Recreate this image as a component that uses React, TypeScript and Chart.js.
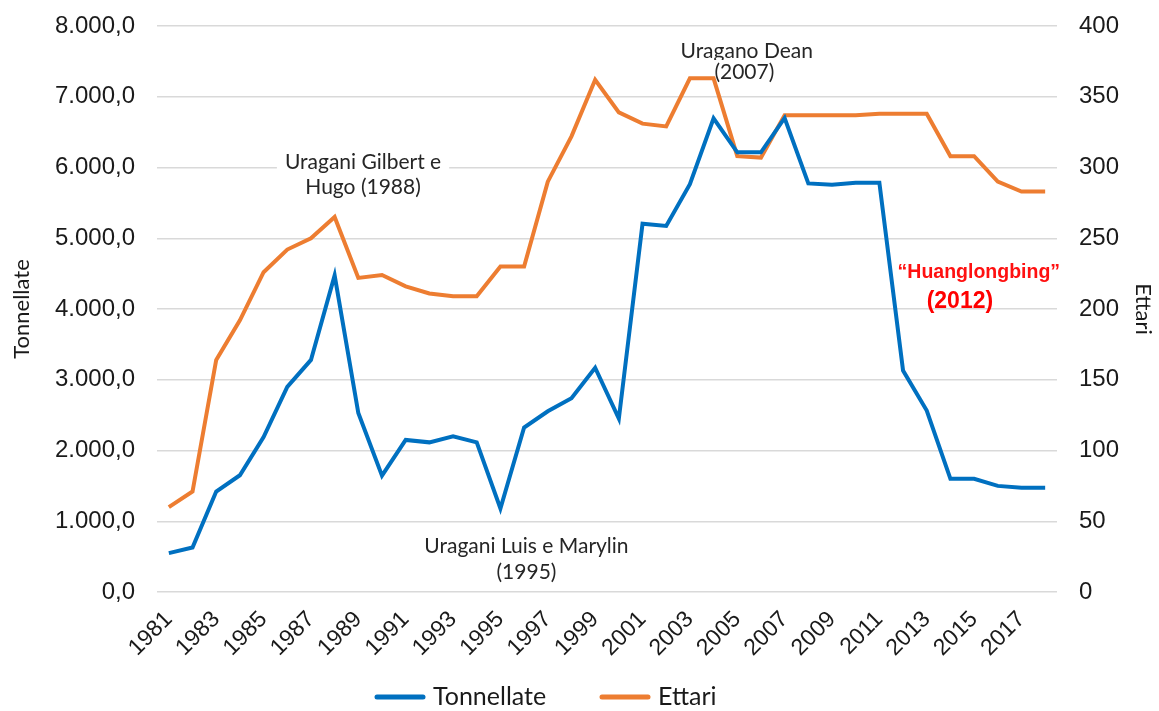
import React, { useEffect, useRef } from "react";
import { Chart, registerables } from "chart.js";

Chart.register(...registerables);

const years: string[] = [
  "1981","1982","1983","1984","1985","1986","1987","1988","1989","1990",
  "1991","1992","1993","1994","1995","1996","1997","1998","1999","2000",
  "2001","2002","2003","2004","2005","2006","2007","2008","2009","2010",
  "2011","2012","2013","2014","2015","2016","2017","2018",
];

const tonnellate: number[] = [
  550, 630, 1420, 1650, 2190, 2900, 3280, 4475, 2530, 1645,
  2150, 2115, 2200, 2115, 1180, 2325, 2555, 2740, 3170, 2450,
  5205, 5175, 5765, 6695, 6215, 6215, 6700, 5775, 5755, 5785,
  5785, 3130, 2565, 1600, 1600, 1500, 1475, 1475,
];

const ettari: number[] = [
  60, 71, 164, 192, 226, 242, 250, 265, 222, 224,
  216, 211, 209, 209, 230, 230, 290, 322, 362, 339,
  331, 329, 363, 363, 308, 307, 337, 337, 337, 337,
  338, 338, 338, 308, 308, 290, 283, 283,
];

const leftTicks: number[] = [0, 1000, 2000, 3000, 4000, 5000, 6000, 7000, 8000];
const rightTicks: number[] = [0, 50, 100, 150, 200, 250, 300, 350, 400];

const GEO = "Lato, sans-serif";
const ARIAL = "'Liberation Sans', Arial, sans-serif";

// annotation text lines: category position (index) and left-axis value of the line centre
const notes = [
  { text: "Uragani Gilbert e", at: 8.2, value: 6080, color: "#262626", font: `21px ${GEO}`, bg: true },
  { text: "Hugo (1988)", at: 8.2, value: 5720, color: "#262626", font: `21px ${GEO}`, bg: true },
  { text: "Uragano Dean", at: 24.4, value: 7650, color: "#262626", font: `21px ${GEO}`, bg: true },
  { text: "(2007)", at: 24.3, value: 7350, color: "#262626", font: `21px ${GEO}`, bg: true },
  { text: "Uragani Luis e Marylin", at: 15.1, value: 640, color: "#262626", font: `21px ${GEO}`, bg: true },
  { text: "(1995)", at: 15.1, value: 285, color: "#262626", font: `21px ${GEO}`, bg: true },
  { text: "\u201CHuanglongbing\u201D", at: 34.2, value: 4520, color: "#FF1010", font: `bold 19.5px ${ARIAL}`, bg: false },
  { text: "(2012)", at: 33.4, value: 4100, color: "#FF0000", font: `bold 23px ${ARIAL}`, bg: false },
];

function fmtIt(v: number): string {
  const s = Math.round(v).toString().replace(/\B(?=(\d{3})+(?!\d))/g, ".");
  return s + ",0";
}

export default function App() {
  const ref = useRef<HTMLCanvasElement | null>(null);
  useEffect(() => {
    document.body.style.margin = "0";
    const canvas = ref.current;
    if (!canvas) return;
    const notesPlugin = {
      id: "notes",
      beforeDatasetsDraw(chart: any) {
        const ctx = chart.ctx;
        const xs = chart.scales.x;
        const ys = chart.scales.y;
        ctx.save();
        ctx.textAlign = "center";
        ctx.textBaseline = "middle";
        notes.forEach((n) => {
          const cx = xs.getPixelForValue(n.at);
          const cy = ys.getPixelForValue(n.value);
          ctx.font = n.font;
          if (n.bg) {
            const w = ctx.measureText(n.text).width;
            ctx.fillStyle = "#ffffff";
            ctx.fillRect(cx - w / 2 - 8, cy - 12, w + 16, 24);
          }
          ctx.fillStyle = n.color;
          ctx.fillText(n.text, cx, cy);
        });
        ctx.restore();
      },
      afterDraw(chart: any) {
        const ctx = chart.ctx;
        const starts = [375, 600];
        const y = 697;
        ctx.save();
        ctx.font = `25px ${GEO}`;
        ctx.textBaseline = "middle";
        ctx.textAlign = "left";
        chart.data.datasets.forEach((ds: any, i: number) => {
          const x0 = starts[i];
          ctx.strokeStyle = ds.borderColor;
          ctx.lineWidth = 5;
          ctx.lineCap = "round";
          ctx.beginPath();
          ctx.moveTo(x0 + 2, y);
          ctx.lineTo(x0 + 48, y);
          ctx.stroke();
          ctx.fillStyle = "#1a1a1a";
          ctx.fillText(ds.label, x0 + 58, y);
        });
        ctx.restore();
      },
    };
    const chart = new Chart(canvas, {
      type: "line",
      data: {
        labels: years,
        datasets: [
          {
            label: "Tonnellate",
            data: tonnellate,
            borderColor: "#0070C0",
            backgroundColor: "#0070C0",
            borderWidth: 4,
            pointRadius: 0,
            tension: 0,
            yAxisID: "y",
          },
          {
            label: "Ettari",
            data: ettari,
            borderColor: "#ED7D31",
            backgroundColor: "#ED7D31",
            borderWidth: 4,
            pointRadius: 0,
            tension: 0,
            yAxisID: "y1",
          },
        ],
      },
      options: {
        animation: false,
        responsive: false,
        maintainAspectRatio: false,
        layout: { padding: { left: 0, right: 0, top: 26, bottom: 0 } },
        plugins: {
          legend: { display: false },
          tooltip: { enabled: false },
        },
        scales: {
          x: {
            offset: true,
            grid: { display: false },
            border: { display: false },
            afterFit: (s: any) => {
              s.height = 119;
              s.paddingLeft = 0;
              s.paddingRight = 0;
            },
            ticks: {
              autoSkip: false,
              minRotation: 45,
              maxRotation: 45,
              padding: 6,
              color: "#1a1a1a",
              font: { family: ARIAL, size: 23 },
              callback: (_v: any, i: number) => (i % 2 === 0 ? years[i] : ""),
            },
          },
          y: {
            position: "left",
            min: 0,
            max: 8000,
            afterBuildTicks: (axis: any) => {
              axis.ticks = leftTicks.map((v) => ({ value: v }));
            },
            afterFit: (s: any) => {
              s.width = 157;
              s.paddingTop = 0;
              s.paddingBottom = 0;
            },
            grid: { color: "#d9d9d9", lineWidth: 1.5, drawTicks: false },
            border: { display: false },
            ticks: {
              padding: 22,
              color: "#1a1a1a",
              font: { family: ARIAL, size: 24 },
              callback: (v: any) => fmtIt(Number(v)),
            },
            title: {
              display: true,
              text: "Tonnellate",
              color: "#1a1a1a",
              font: { family: GEO, size: 22 },
              padding: { top: 9, bottom: 0 },
            },
          },
          y1: {
            position: "right",
            min: 0,
            max: 400,
            afterBuildTicks: (axis: any) => {
              axis.ticks = rightTicks.map((v) => ({ value: v }));
            },
            afterFit: (s: any) => {
              s.width = 102;
              s.paddingTop = 0;
              s.paddingBottom = 0;
            },
            grid: { display: false, drawTicks: false },
            border: { display: false },
            ticks: {
              padding: 22,
              color: "#1a1a1a",
              font: { family: ARIAL, size: 24 },
            },
            title: {
              display: true,
              text: "Ettari",
              color: "#1a1a1a",
              font: { family: GEO, size: 22 },
              padding: { top: 3, bottom: 0 },
            },
          },
        },
      },
      plugins: [notesPlugin],
    });
    return () => chart.destroy();
  }, []);
  return (
    <div style={{ width: 1159, height: 711 }}>
      <canvas ref={ref} width={1159} height={711} style={{ display: "block" }} />
    </div>
  );
}
